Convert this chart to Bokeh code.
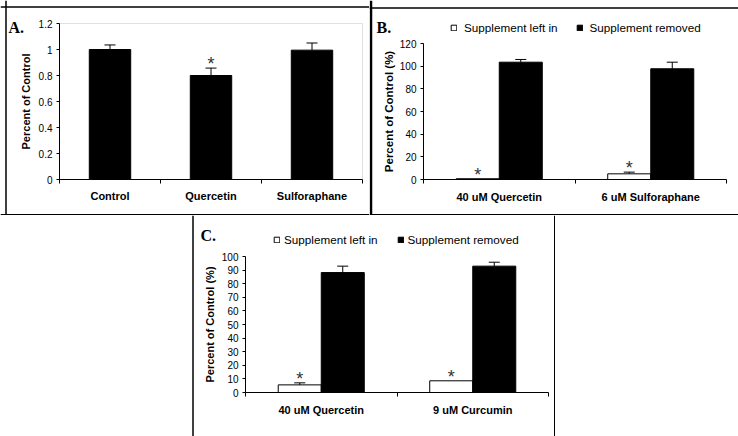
from bokeh.plotting import figure
from bokeh.models import (FixedTicker, Whisker, ColumnDataSource, Legend, LegendItem,
                          Label, BoxAnnotation, Spacer, TeeHead, LinearAxis, Span, Range1d)
from bokeh.layouts import row, column
from bokeh.embed import file_html
from bokeh.resources import INLINE
from bokeh.core.properties import value

# ---------------- data ----------------
# Panel A
a_categories = ["Control", "Quercetin", "Sulforaphane"]
a_values = [1.0, 0.80, 0.995]
a_errors = [0.035, 0.057, 0.055]
a_significant = [False, True, False]
a_yticks = [0, 0.2, 0.4, 0.6, 0.8, 1.0, 1.2]
a_ytick_labels = ["0", "0.2", "0.4", "0.6", "0.8", "1", "1.2"]

# Panel B
b_categories = ["40 uM Quercetin", "6 uM Sulforaphane"]
b_left_in = [0.7, 5.0]
b_left_in_err = [0.0, 1.5]
b_removed = [103.5, 97.7]
b_removed_err = [2.4, 5.8]
b_yticks = [0, 20, 40, 60, 80, 100, 120]

# Panel C
c_categories = ["40 uM Quercetin", "9 uM Curcumin"]
c_left_in = [5.6, 8.6]
c_left_in_err = [1.5, 0.0]
c_removed = [88.2, 92.9]
c_removed_err = [4.7, 2.9]
c_yticks = [0, 10, 20, 30, 40, 50, 60, 70, 80, 90, 100]

series_names = ["Supplement left in", "Supplement removed"]
panel_letters = ["A.", "B.", "C."]
y_axis_titles = ["Percent of Control", "Percent of Control (%)", "Percent of Control (%)"]

FONT = "Liberation Sans"
SERIF = "Liberation Serif"
BORDER_W = 1.5


class Panel:
    """A figure whose frame is the whole canvas; the plot area is placed inside it
    (pixel geometry L, R, T, B) and the axes are drawn at fixed locations."""

    def __init__(self, W, H, L, R, T, B, n_cat, yticks, ylabels, ytitle, categories,
                 ytitle_size="11px", ytitle_standoff=4, xlabel_standoff=7):
        self.W, self.H, self.L, self.R, self.T, self.B = W, H, L, R, T, B
        self.x0, self.x1 = 0, n_cat
        self.y0, self.y1 = yticks[0], yticks[-1]
        self.sx = (self.x1 - self.x0) / (R - L)
        self.sy = (self.y1 - self.y0) / (B - T)
        xr = Range1d(self.fx(0), self.fx(W))
        yr = Range1d(self.fy(H), self.fy(0))
        p = figure(width=W, height=H, output_backend="svg", toolbar_location=None,
                   x_range=xr, y_range=yr, x_axis_location=None, y_axis_location=None,
                   title=None, min_border=0)
        p.min_border_left = p.min_border_right = p.min_border_top = p.min_border_bottom = 0
        p.xgrid.visible = False
        p.ygrid.visible = False
        p.background_fill_color = "white"
        p.border_fill_color = "white"
        p.outline_line_color = None
        self.p = p
        self.centers = [i + 0.5 for i in range(n_cat)]
        bounds = [i for i in range(n_cat + 1)]

        xa = LinearAxis(fixed_location=self.y0, bounds=(self.x0, self.x1))
        xa.ticker = FixedTicker(ticks=self.centers, minor_ticks=bounds)
        xa.major_label_overrides = {c: lab for c, lab in zip(self.centers, categories)}
        xa.major_tick_out = 0
        xa.major_tick_in = 0
        xa.minor_tick_out = 4
        xa.minor_tick_in = 0
        xa.minor_tick_line_color = "black"
        xa.axis_line_color = "black"
        xa.major_label_text_font = FONT
        xa.major_label_text_font_style = "bold"
        xa.major_label_text_font_size = "11px"
        xa.major_label_text_color = "black"
        xa.major_label_standoff = xlabel_standoff
        p.add_layout(xa, "below")

        ya = LinearAxis(fixed_location=self.x0, bounds=(self.y0, self.y1))
        ya.ticker = FixedTicker(ticks=yticks, minor_ticks=[])
        if ylabels is not None:
            ya.major_label_overrides = {t: lab for t, lab in zip(yticks, ylabels)}
        ya.major_tick_out = 3
        ya.major_tick_in = 0
        ya.minor_tick_line_color = None
        ya.axis_line_color = "black"
        ya.major_tick_line_color = "black"
        ya.major_label_text_font = FONT
        ya.major_label_text_font_size = "10px"
        ya.major_label_text_color = "black"
        ya.major_label_standoff = 4
        ya.axis_label = ytitle
        ya.axis_label_text_font = FONT
        ya.axis_label_text_font_style = "bold"
        ya.axis_label_text_font_size = ytitle_size
        ya.axis_label_text_color = "black"
        ya.axis_label_standoff = ytitle_standoff
        p.add_layout(ya, "left")

    # canvas pixel -> data
    def fx(self, px):
        return self.x0 + (px - self.L) * self.sx

    def fy(self, py):
        return self.y1 - (py - self.T) * self.sy

    def hline(self, py, width=BORDER_W, color="black"):
        self.p.add_layout(Span(location=self.fy(py), dimension="width",
                               line_color=color, line_width=width))

    def vline(self, px, width=BORDER_W, color="black"):
        self.p.add_layout(Span(location=self.fx(px), dimension="height",
                               line_color=color, line_width=width))

    def letter(self, text, px, py):
        self.p.add_layout(Label(x=self.fx(px), y=self.fy(py), text=text,
                                text_font=SERIF, text_font_style="bold",
                                text_font_size="16px", text_color="black",
                                text_baseline="alphabetic"))

    def errors(self, xs, vals, errs):
        keep = [i for i, e in enumerate(errs) if e > 0]
        src = ColumnDataSource(dict(x=[xs[i] for i in keep],
                                    lo=[vals[i] for i in keep],
                                    hi=[vals[i] + errs[i] for i in keep]))
        self.p.add_layout(Whisker(base="x", lower="lo", upper="hi", source=src,
                                  dimension="height", line_color="black", line_width=1,
                                  upper_head=TeeHead(size=11, line_color="black",
                                                     line_width=1),
                                  lower_head=None))

    def stars(self, xs, tops):
        if not xs:
            return
        self.p.text(x=xs, y=tops, text=["*"] * len(xs), text_font=value(FONT),
                    text_font_size="18px", text_align="center", text_baseline="middle",
                    y_offset=-4, text_color="#333333")


# ---------------- panel A ----------------
A = Panel(369, 215, 59, 362, 23, 179, len(a_categories), a_yticks, a_ytick_labels,
          y_axis_titles[0], a_categories, ytitle_standoff=4, xlabel_standoff=6)
A.p.add_layout(BoxAnnotation(left=A.x0, right=A.x1, bottom=A.y0, top=A.y1,
                             fill_alpha=0, line_color="#999999", line_width=1,
                             level="underlay"))
A.p.vbar(x=A.centers, top=a_values, bottom=0, width=0.41, fill_color="black",
         line_color="black")
A.errors(A.centers, a_values, a_errors)
A.stars([A.centers[i] for i, s in enumerate(a_significant) if s],
        [a_values[i] + a_errors[i] for i, s in enumerate(a_significant) if s])
A.letter(panel_letters[0], 8, 27)
A.hline(6.5)
A.hline(214.25)
A.vline(5.5)


def grouped(W, H, L, R, T, B, categories, left_in, left_err, removed, removed_err,
            yticks, ytitle, letter, letter_px, legend_px, ytitle_size, ytitle_standoff,
            standoff, spacing):
    P = Panel(W, H, L, R, T, B, len(categories), yticks, None, ytitle, categories,
              ytitle_size=ytitle_size, ytitle_standoff=ytitle_standoff)
    p = P.p
    bw = 0.284
    x_in = [c - bw / 2 for c in P.centers]
    x_rm = [c + bw / 2 for c in P.centers]
    r_in = p.vbar(x=x_in, top=left_in, bottom=0, width=bw, fill_color="white",
                  line_color="black", line_width=1)
    r_rm = p.vbar(x=x_rm, top=removed, bottom=0, width=bw, fill_color="black",
                  line_color="black", line_width=1)
    P.errors(x_in, left_in, left_err)
    P.errors(x_rm, removed, removed_err)
    P.stars(x_in, [v + e for v, e in zip(left_in, left_err)])
    lx, lcy = legend_px
    legend = Legend(items=[LegendItem(label=series_names[0], renderers=[r_in]),
                           LegendItem(label=series_names[1], renderers=[r_rm])],
                    orientation="horizontal", location=(lx, round(H - (lcy + 6))),
                    glyph_width=7, glyph_height=7, label_height=12,
                    label_standoff=standoff, spacing=spacing, padding=0, margin=0,
                    border_line_color=None, background_fill_alpha=0,
                    label_text_font=FONT, label_text_font_size="11.7px",
                    label_text_color="black")
    p.add_layout(legend)
    P.letter(letter, *letter_px)
    return P


# ---------------- panel B ----------------
Bp = grouped(369, 215, 54, 357, 43, 179, b_categories, b_left_in, b_left_in_err,
             b_removed, b_removed_err, b_yticks, y_axis_titles[1], panel_letters[1],
             (7, 27), (81, 28), "11.5px", 2, 7, 18)
Bp.hline(7.5)
Bp.hline(214.25)
Bp.vline(1.5, width=2.5)

# ---------------- panel C ----------------
Cp = grouped(364, 221, 54, 357, 41, 177, c_categories, c_left_in, c_left_in_err,
             c_removed, c_removed_err, c_yticks, y_axis_titles[2], panel_letters[2],
             (9, 20), (82, 25.5), "11px", 3, 4, 19)
Cp.vline(1.5)
Cp.vline(363.25)

layout = column(row(A.p, Bp.p), row(Spacer(width=191, height=221), Cp.p))

open("out.html", "w").write(file_html(layout, INLINE))
